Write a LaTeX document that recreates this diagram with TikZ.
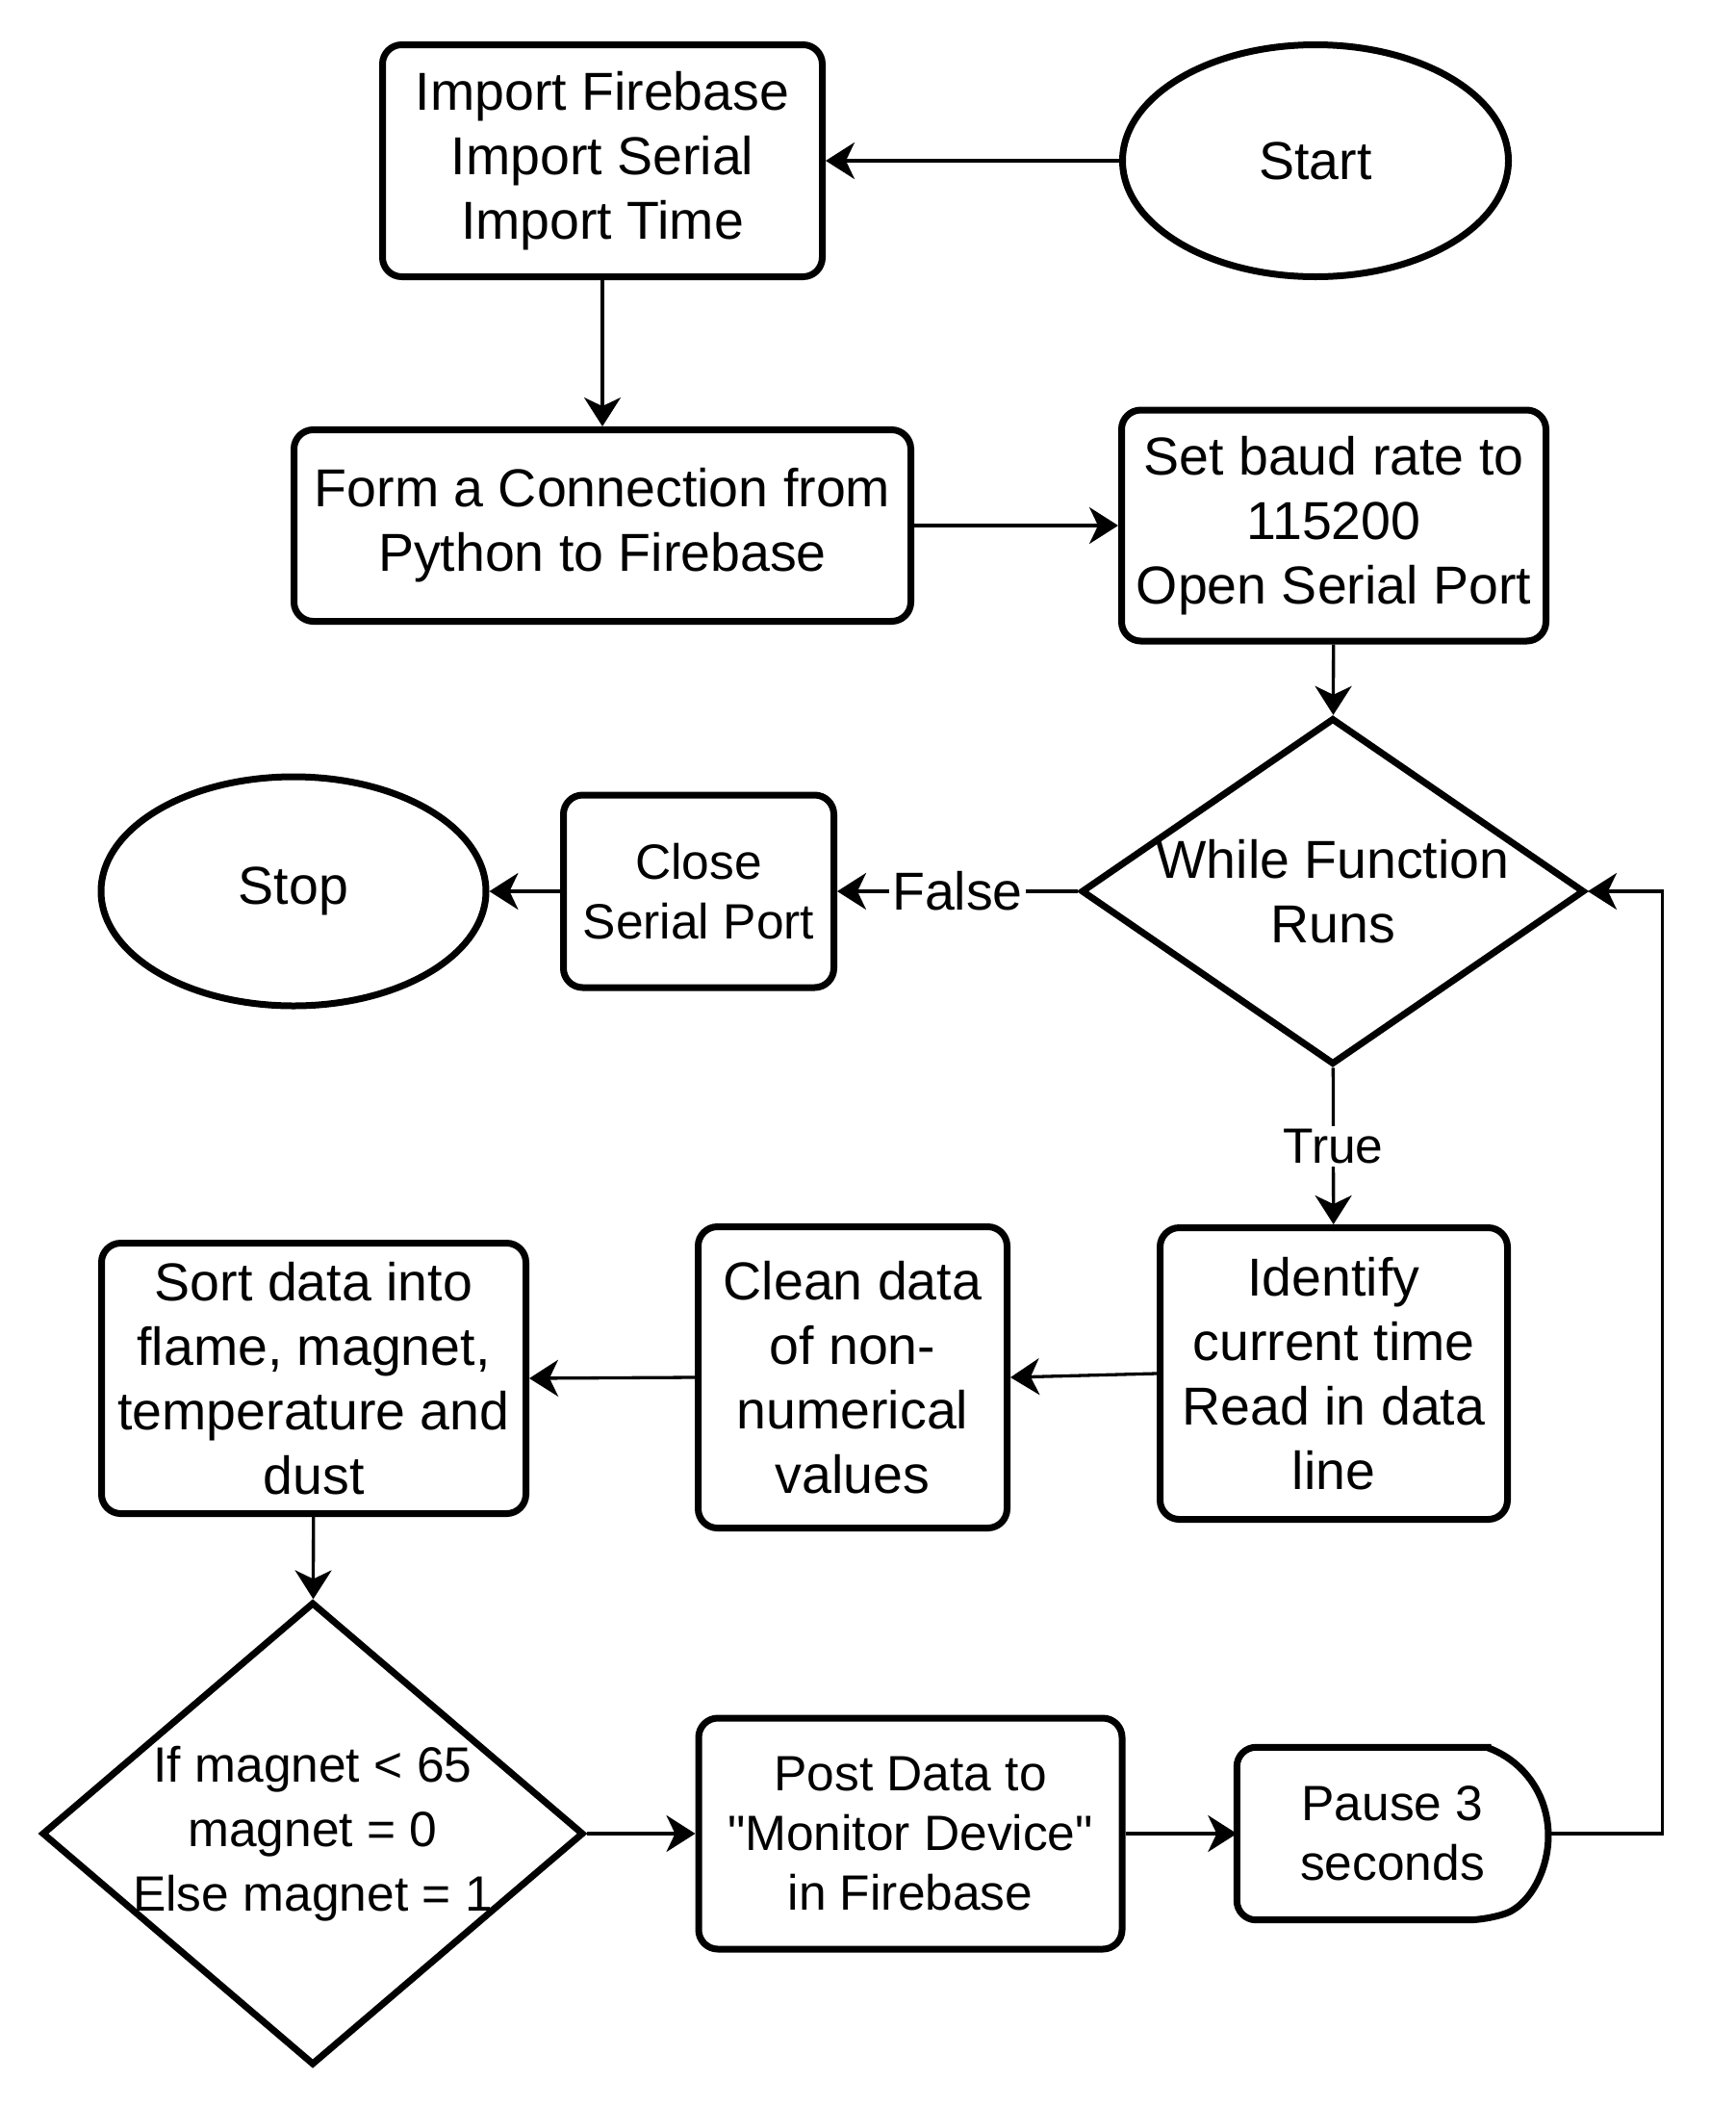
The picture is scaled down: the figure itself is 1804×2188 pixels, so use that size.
\documentclass[tikz,border=0pt]{standalone}
\usepackage{fontspec}
\setmainfont{Liberation Sans}
\usetikzlibrary{shapes.geometric,arrows.meta}
\begin{document}
\begin{tikzpicture}[x=1pt, y=-1pt,
    every node/.style={font=\fontsize{55.5}{67}\selectfont, align=center},
    outline/.style={draw, line width=7pt},
    box/.style={outline, rounded corners=20pt, inner sep=2pt},
    term/.style={outline, ellipse},
    cond/.style={outline, diamond, inner sep=0pt},
    small/.style={font=\fontsize{51.5}{62}\selectfont},
    conn/.style={line width=3.3pt, -{Stealth[length=30pt, width=38pt, inset=9pt]}},
    lbl/.style={fill=white, inner sep=3pt}]
    \useasboundingbox (0,0) rectangle (1804,2188);
    \node[term, minimum width=401pt, minimum height=241pt] (A) at (1367,167) {Start};
    \node[box, minimum width=457pt, minimum height=241pt] (B) at (626,167)
    {Import Firebase\\Import Serial\\Import Time};
    \node[box, minimum width=641pt, minimum height=199pt] (C) at (626,546)
    {Form a Connection from\\Python to Firebase};
    \node[box, minimum width=441pt, minimum height=240pt] (D) at (1386,546)
    {Set baud rate to\\115200\\Open Serial Port};
    \node[cond, minimum width=523pt, minimum height=360pt,
    label={center:{While Function\\Runs}}] (E) at (1385,926) {};
    \node[box, small, minimum width=281pt, minimum height=200pt] (F) at (726,926)
    {Close\\Serial Port};
    \node[term, minimum width=400pt, minimum height=238pt] (G) at (305,926) {Stop};
    \node[box, minimum width=361pt, minimum height=303pt] (H) at (1386,1427)
    {Identify\\current time\\Read in data\\line};
    \node[box, minimum width=321pt, minimum height=313pt] (I) at (886,1431)
    {Clean data\\of non-\\numerical\\values};
    \node[box, minimum width=441pt, minimum height=281pt] (J) at (326,1432)
    {Sort data into\\flame, magnet,\\temperature and\\dust};
    \node[cond, minimum width=563pt, minimum height=481pt,
    label={[font=\fontsize{51.5}{67}\selectfont]center:{If magnet < 65\\magnet = 0\\Else magnet = 1}}] (K) at (325,1905) {};
    \node[box, small, minimum width=440pt, minimum height=240pt] (L) at (946,1905)
    {Post Data to\\\textquotedbl Monitor Device\textquotedbl\\in Firebase};
    \node[small, minimum width=323pt, minimum height=179pt, inner sep=2pt] (M) at (1447,1905)
    {Pause 3\\seconds};
    \draw[outline, rounded corners=20pt] ([xshift=-62.6pt]M.north east) -- (M.north west)
    -- (M.south west) -- ([xshift=-62.6pt]M.south east) [sharp corners]
    arc[start angle=-70, end angle=70, radius=95.2pt] -- cycle;
    \draw[conn] (A) -- (B);
    \draw[conn] (B) -- (C);
    \draw[conn] (C) -- (D);
    \draw[conn] (D) -- (E);
    \draw[conn] (E) -- node[lbl] {False} (F);
    \draw[conn] (F) -- (G);
    \draw[conn] (E) -- node[lbl, small] {True} (H);
    \draw[conn] (H.west) -- (I.east);
    \draw[conn] (I.west) -- (J.east);
    \draw[conn] (J) -- (K);
    \draw[conn] (K) -- (L);
    \draw[conn] (L) -- (M);
    \draw[conn] (M.east) -- ++(119,0) |- (E.east);
\end{tikzpicture}
\end{document}
